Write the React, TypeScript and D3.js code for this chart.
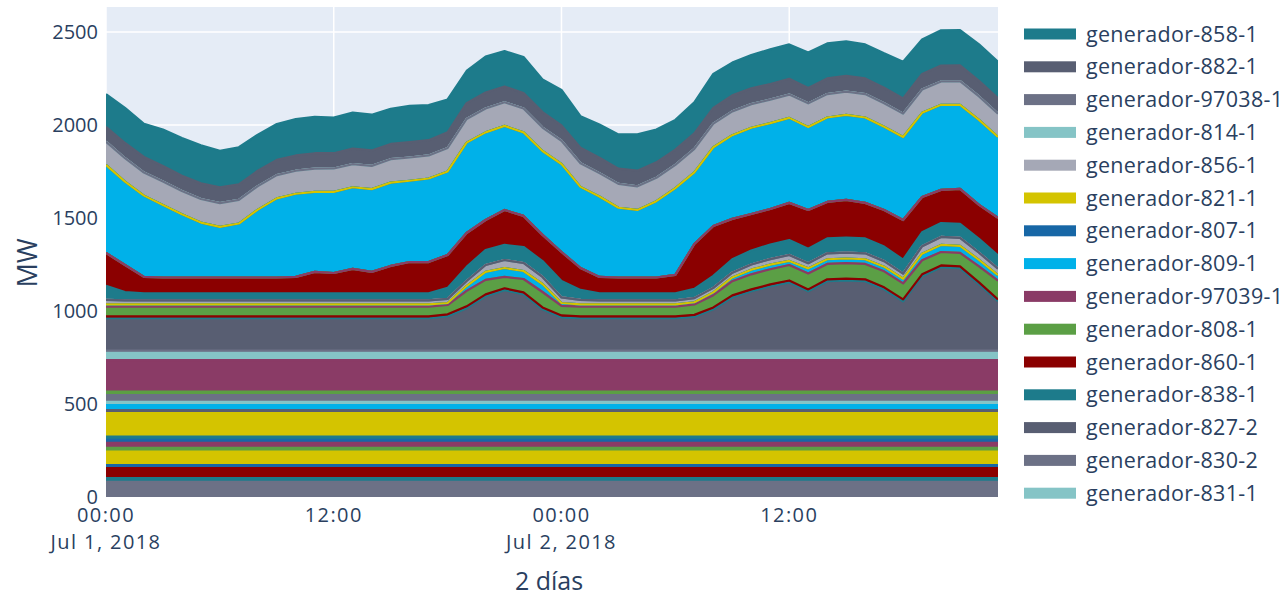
import React from "react";
import * as d3 from "d3";

const W = 1287;
const H = 598;
const PLOT = { left: 106, right: 998, top: 7, bottom: 497 };

const START = new Date(2018, 6, 1, 0);
const END = new Date(2018, 6, 2, 23);
const times: Date[] = d3.timeHour.range(START, d3.timeHour.offset(END, 1));

const yTickValues = [0, 500, 1000, 1500, 2000, 2500];
const xTickValues = [
  new Date(2018, 6, 1, 0),
  new Date(2018, 6, 1, 12),
  new Date(2018, 6, 2, 0),
  new Date(2018, 6, 2, 12),
];

const palette: Record<string, string> = {
  teal: "#1d7b8b",
  dark: "#585e72",
  gray: "#6c7186",
  lightteal: "#85c4c6",
  lightgray: "#a5a8b6",
  yellow: "#d4c400",
  blue: "#1767a6",
  lightblue: "#00b1e9",
  purple: "#8a3b66",
  green: "#5b9f45",
  darkred: "#8b0000",
};

// Constant lower bands (bottom-up), MW
const baseBandValues = [82, 20, 54, 16, 72, 20, 27, 16, 18, 126, 16, 27, 18, 36, 18, 170, 41, 10];
const baseBandColors = ["gray", "teal", "darkred", "blue", "yellow", "green", "purple", "blue", "teal", "yellow", "dark", "lightblue", "lightteal", "gray", "green", "purple", "lightteal", "gray"];

// Hidden (not shown in legend) varying layers, hourly, MW
const hiddenSlate = [170,170,170,170,170,170,170,170,170,170,170,170,170,170,170,170,170,170,181,224,288,321,299,218,175,170,170,170,170,170,170,178,218,283,315,342,363,315,369,373,369,326,261,396,444,439,353,261];
const hiddenTealLine = 4;
const hiddenRedLine = 10;
const hiddenGreen = [52,52,52,52,52,52,52,52,52,52,52,52,52,52,52,52,52,52,50,83,78,61,72,83,51,52,52,52,52,52,52,56,66,76,81,81,83,86,83,83,83,86,86,76,72,72,86,101];
const hiddenLightBlue = [12,12,12,12,12,12,12,12,12,12,12,12,12,12,12,12,12,12,11,26,43,48,43,43,16,12,12,12,12,12,12,12,15,20,25,25,22,27,25,25,25,25,25,35,38,38,35,30];
const hiddenLightGray = [25,22,22,22,22,22,22,22,22,22,22,22,22,22,22,22,22,22,22,27,37,43,43,38,30,25,22,22,22,22,22,22,24,26,28,30,32,28,32,32,32,30,28,40,43,43,38,35];

// Legend series, hourly, MW
const gen838 = [75,45,38,38,38,38,38,38,38,38,38,38,38,38,38,38,38,38,59,76,81,81,86,85,88,53,38,38,38,38,38,50,65,72,75,78,80,78,80,80,80,78,75,75,75,75,75,70];
const gen860 = [177,145,88,85,85,85,85,85,85,85,88,115,109,131,115,147,168,168,177,182,161,188,167,141,156,118,88,85,85,85,99,241,268,217,196,191,200,208,196,203,191,197,213,190,178,188,182,202];
const gen809 = [473,448,437,390,340,295,272,290,365,425,447,430,436,439,445,448,437,449,449,486,471,452,449,451,473,436,432,375,363,410,466,385,423,450,464,462,457,446,454,457,459,447,446,452,457,452,457,435];
const gen856 = [125,126,124,126,125,127,128,127,126,125,124,125,126,124,125,126,125,124,126,127,128,127,128,126,125,127,126,128,127,126,125,126,127,128,127,126,125,127,126,125,126,127,126,125,126,127,126,125];
const gen882 = [80,82,84,83,82,84,85,84,83,82,82,83,82,84,83,82,83,82,84,85,86,85,84,83,82,84,83,82,84,83,82,84,85,86,85,84,85,83,84,85,84,83,82,84,85,85,84,83];
const gen858 = [175,189,178,196,203,205,196,199,194,193,195,196,191,193,192,189,195,189,177,173,193,190,193,175,191,169,178,184,196,176,160,166,182,176,179,186,185,191,188,185,183,185,197,185,190,190,196,197];
const offline = 0;

// Legend (top of stack first)
const legendNames = [
  "generador-858-1", "generador-882-1", "generador-97038-1", "generador-814-1",
  "generador-856-1", "generador-821-1", "generador-807-1", "generador-809-1",
  "generador-97039-1", "generador-808-1", "generador-860-1", "generador-838-1",
  "generador-827-2", "generador-830-2", "generador-831-1",
];
const legendColors = [
  "teal", "dark", "gray", "lightteal", "lightgray", "yellow", "blue", "lightblue",
  "purple", "green", "darkred", "teal", "dark", "gray", "lightteal",
];

type Layer = { key: string; color: string; values: number[] };

function constant(v: number): number[] {
  return times.map(() => v);
}

const layers: Layer[] = [
  ...baseBandValues.map((v, i) => ({ key: `base-${i}`, color: baseBandColors[i], values: constant(v) })),
  { key: "h-slate", color: "dark", values: hiddenSlate },
  { key: "h-teal", color: "teal", values: constant(hiddenTealLine) },
  { key: "h-red", color: "darkred", values: constant(hiddenRedLine) },
  { key: "h-green", color: "green", values: hiddenGreen },
  { key: "h-purple", color: "purple", values: constant(offline) },
  { key: "h-lightblue", color: "lightblue", values: hiddenLightBlue },
  { key: "h-blue", color: "blue", values: constant(offline) },
  { key: "h-yellow", color: "yellow", values: constant(offline) },
  { key: "h-lightgray", color: "lightgray", values: hiddenLightGray },
  { key: "generador-831-1", color: "lightteal", values: constant(offline) },
  { key: "generador-830-2", color: "gray", values: constant(offline) },
  { key: "generador-827-2", color: "dark", values: constant(offline) },
  { key: "generador-838-1", color: "teal", values: gen838 },
  { key: "generador-860-1", color: "darkred", values: gen860 },
  { key: "generador-808-1", color: "green", values: constant(offline) },
  { key: "generador-97039-1", color: "purple", values: constant(offline) },
  { key: "generador-809-1", color: "lightblue", values: gen809 },
  { key: "generador-807-1", color: "blue", values: constant(offline) },
  { key: "generador-821-1", color: "yellow", values: constant(offline) },
  { key: "generador-856-1", color: "lightgray", values: gen856 },
  { key: "generador-814-1", color: "lightteal", values: constant(offline) },
  { key: "generador-97038-1", color: "gray", values: constant(offline) },
  { key: "generador-882-1", color: "dark", values: gen882 },
  { key: "generador-858-1", color: "teal", values: gen858 },
];

const FONT = "'Open Sans', 'Noto Sans', sans-serif";
const TEXT = "#2a3f5f";

export default function App() {
  const x = d3.scaleTime().domain([START, END]).range([PLOT.left, PLOT.right]);
  const y = d3.scaleLinear().domain([0, 2634]).range([PLOT.bottom, PLOT.top]);

  const rows = times.map((t, i) => {
    const r: any = { time: t };
    layers.forEach((l) => (r[l.key] = l.values[i]));
    return r;
  });
  const stacked = d3.stack<any>().keys(layers.map((l) => l.key))(rows);

  const area = d3
    .area<any>()
    .x((d) => x(d.data.time))
    .y0((d) => y(d[0]))
    .y1((d) => y(d[1]));
  const line = d3
    .line<any>()
    .x((d) => x(d.data.time))
    .y((d) => y(d[1]));

  const fmtTime = d3.timeFormat("%H:%M");
  const fmtDate = d3.timeFormat("%b %-d, %Y");

  return (
    <svg width={W} height={H} style={{ position: "absolute", left: 0, top: 0, background: "#fff" }}>
      <defs>
        <clipPath id="plotclip">
          <rect x={PLOT.left} y={PLOT.top} width={PLOT.right - PLOT.left} height={PLOT.bottom - PLOT.top} />
        </clipPath>
      </defs>
      <rect x={PLOT.left} y={PLOT.top} width={PLOT.right - PLOT.left} height={PLOT.bottom - PLOT.top} fill="#e5ecf6" />
      {yTickValues.map((v) => (
        <line key={`gy${v}`} x1={PLOT.left} x2={PLOT.right} y1={y(v)} y2={y(v)} stroke="#fff" strokeWidth={1.5} />
      ))}
      {xTickValues.map((t, i) => (
        <line key={`gx${i}`} x1={x(t)} x2={x(t)} y1={PLOT.top} y2={PLOT.bottom} stroke="#fff" strokeWidth={1.5} />
      ))}
      <g clipPath="url(#plotclip)">
        {stacked.map((s, i) => (
          <path key={`a${i}`} d={area(s) || ""} fill={palette[layers[i].color]} stroke="none" />
        ))}
        {stacked.map((s, i) => (
          <path key={`l${i}`} d={line(s) || ""} fill="none" stroke={palette[layers[i].color]} strokeWidth={2.2} strokeLinejoin="round" />
        ))}
      </g>
      {yTickValues.map((v) => (
        <text key={`ty${v}`} x={98} y={y(v) + 7} textAnchor="end" fontFamily={FONT} fontSize={20} fill={TEXT}>
          {v}
        </text>
      ))}
      {xTickValues.map((t, i) => (
        <g key={`tx${i}`}>
          <text x={x(t)} y={522} textAnchor="middle" fontFamily={FONT} fontSize={20} letterSpacing={1.4} fill={TEXT}>
            {fmtTime(t)}
          </text>
          {t.getHours() === 0 && (
            <text x={x(t)} y={549} textAnchor="middle" fontFamily={FONT} fontSize={20} letterSpacing={1.4} fill={TEXT}>
              {fmtDate(t)}
            </text>
          )}
        </g>
      ))}
      <text x={549} y={590} textAnchor="middle" fontFamily={FONT} fontSize={25} fill={TEXT}>
        2 días
      </text>
      <text transform={`translate(37, 263) rotate(-90)`} textAnchor="middle" fontFamily={FONT} fontSize={27} fill={TEXT}>
        MW
      </text>
      {legendNames.map((name, i) => {
        const cy = 34 + i * 32.8;
        return (
          <g key={name}>
            <rect x={1024} y={cy - 5.5} width={52} height={11} fill={palette[legendColors[i]]} />
            <text x={1086} y={cy + 7.5} fontFamily={FONT} fontSize={21.5} letterSpacing={0.3} fill={TEXT}>
              {name}
            </text>
          </g>
        );
      })}
    </svg>
  );
}
